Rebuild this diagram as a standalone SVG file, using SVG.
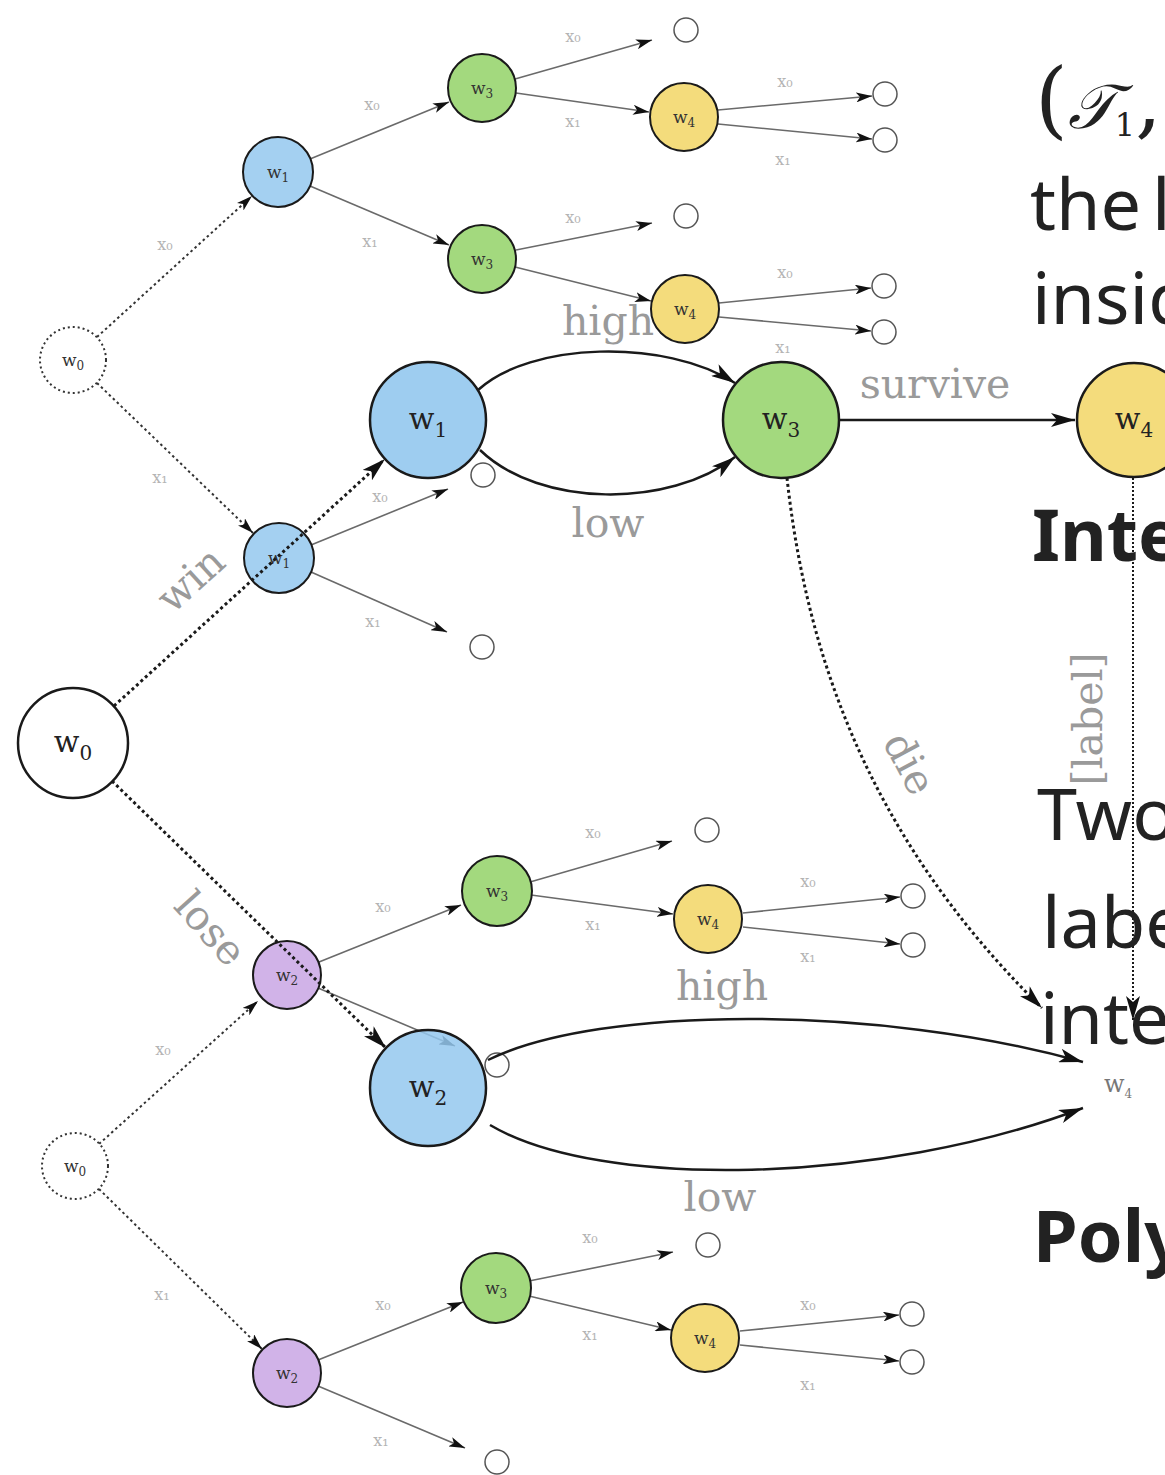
<svg xmlns="http://www.w3.org/2000/svg" width="1165" height="1475" viewBox="0 0 1165 1475">
<defs>
<style>
.bg{fill:#fff}
.md{stroke:#1a1a1a;stroke-width:3;stroke-dasharray:3 3;fill:none}
.mdot{stroke:#1a1a1a;stroke-width:2;stroke-dasharray:2 2;fill:none}
.ms{stroke:#1a1a1a;stroke-width:2.5;fill:none}
.fe{stroke:#6a6a6a;stroke-width:1.6;fill:none}
.fd{stroke:#333;stroke-width:2;stroke-dasharray:2.5 3;fill:none}
.lbl{font-family:"DejaVu Serif",serif;font-size:41px;fill:#9a9a9a}
.flbl{font-family:"DejaVu Serif",serif;font-size:16px;fill:#b4b4b4}
.nl{font-family:"DejaVu Serif",serif;font-size:30px;fill:#222}
.fnl{font-family:"DejaVu Serif",serif;font-size:17px;fill:#333}
.sub{font-size:20px}
.fsub{font-size:12px}
.blue{fill:#94c8ee;stroke:#1a1a1a;stroke-width:2.5}
.green{fill:#a3d97e;stroke:#1a1a1a;stroke-width:2.5}
.yellow{fill:#f4dc7c;stroke:#1a1a1a;stroke-width:2.5}
.white{fill:#fff;stroke:#1a1a1a;stroke-width:2.5}
.fblue{fill:#94c8ee;stroke:#1a1a1a;stroke-width:2;fill-opacity:.85}
.fgreen{fill:#a3d97e;stroke:#1a1a1a;stroke-width:2}
.fyellow{fill:#f4dc7c;stroke:#1a1a1a;stroke-width:2}
.fpurple{fill:#c9a6e4;stroke:#1a1a1a;stroke-width:2;fill-opacity:.85}
.froot{fill:#fff;stroke:#333;stroke-width:2;stroke-dasharray:2 3}
.leaf{fill:#fff;stroke:#555;stroke-width:1.5}
.txt{font-family:"Noto Sans","Open Sans",sans-serif;font-size:72px;fill:#222}
.txtb{font-family:"Noto Sans","Open Sans",sans-serif;font-size:72px;font-weight:bold;fill:#222}
</style>
<marker id="ah" markerUnits="userSpaceOnUse" markerWidth="24" markerHeight="14" refX="24" refY="7" orient="auto"><path d="M0,0 L24,7 L0,14 L6,7 Z" fill="#111"/></marker>
<marker id="as" markerUnits="userSpaceOnUse" markerWidth="16" markerHeight="10" refX="16" refY="5" orient="auto"><path d="M0,0 L16,5 L0,10 L4,5 Z" fill="#111"/></marker>
</defs>
<rect class="bg" x="0" y="0" width="1165" height="1475"/>

<!-- faint top tree -->
<g id="faint-top-edges">
<line class="fd" x1="97" y1="337" x2="252" y2="196" marker-end="url(#as)"/>
<line class="fd" x1="97" y1="383" x2="253" y2="533" marker-end="url(#as)"/>
<line class="fe" x1="310" y1="159" x2="449" y2="102" marker-end="url(#as)"/>
<line class="fe" x1="310" y1="186" x2="449" y2="245" marker-end="url(#as)"/>
<line class="fe" x1="515" y1="79" x2="652" y2="40" marker-end="url(#as)"/>
<line class="fe" x1="516" y1="93" x2="649" y2="112" marker-end="url(#as)"/>
<line class="fe" x1="718" y1="110" x2="872" y2="96" marker-end="url(#as)"/>
<line class="fe" x1="718" y1="124" x2="872" y2="139" marker-end="url(#as)"/>
<line class="fe" x1="516" y1="250" x2="652" y2="223" marker-end="url(#as)"/>
<line class="fe" x1="515" y1="267" x2="651" y2="301" marker-end="url(#as)"/>
<line class="fe" x1="719" y1="303" x2="871" y2="288" marker-end="url(#as)"/>
<line class="fe" x1="719" y1="317" x2="871" y2="331" marker-end="url(#as)"/>
<line class="fe" x1="311" y1="545" x2="448" y2="489" marker-end="url(#as)"/>
<line class="fe" x1="311" y1="572" x2="447" y2="632" marker-end="url(#as)"/>
<text class="flbl" x="165" y="250" text-anchor="middle">x₀</text>
<text class="flbl" x="160" y="483" text-anchor="middle">x₁</text>
<text class="flbl" x="372" y="110" text-anchor="middle">x₀</text>
<text class="flbl" x="370" y="247" text-anchor="middle">x₁</text>
<text class="flbl" x="573" y="42" text-anchor="middle">x₀</text>
<text class="flbl" x="573" y="127" text-anchor="middle">x₁</text>
<text class="flbl" x="785" y="87" text-anchor="middle">x₀</text>
<text class="flbl" x="783" y="165" text-anchor="middle">x₁</text>
<text class="flbl" x="573" y="223" text-anchor="middle">x₀</text>
<text class="flbl" x="785" y="278" text-anchor="middle">x₀</text>
<text class="flbl" x="783" y="353" text-anchor="middle">x₁</text>
<text class="flbl" x="380" y="502" text-anchor="middle">x₀</text>
<text class="flbl" x="373" y="627" text-anchor="middle">x₁</text>
</g>
<g id="faint-top-nodes">
<g id="t-root"><circle class="froot" cx="73" cy="360" r="33"/><text class="fnl" x="73" y="366" text-anchor="middle">w<tspan class="fsub" dy="4">0</tspan></text></g>
<g id="t-blueA"><circle class="fblue" cx="278" cy="172" r="35"/><text class="fnl" x="278" y="178" text-anchor="middle">w<tspan class="fsub" dy="4">1</tspan></text></g>
<g id="t-blueB"><circle class="fblue" cx="279" cy="558" r="35"/><text class="fnl" x="279" y="564" text-anchor="middle">w<tspan class="fsub" dy="4">1</tspan></text></g>
<g id="t-green1"><circle class="fgreen" cx="482" cy="88" r="34"/><text class="fnl" x="482" y="94" text-anchor="middle">w<tspan class="fsub" dy="4">3</tspan></text></g>
<g id="t-green2"><circle class="fgreen" cx="482" cy="259" r="34"/><text class="fnl" x="482" y="265" text-anchor="middle">w<tspan class="fsub" dy="4">3</tspan></text></g>
<g id="t-yellow1"><circle class="fyellow" cx="684" cy="117" r="34"/><text class="fnl" x="684" y="123" text-anchor="middle">w<tspan class="fsub" dy="4">4</tspan></text></g>
<g id="t-yellow2"><circle class="fyellow" cx="685" cy="309" r="34"/><text class="fnl" x="685" y="315" text-anchor="middle">w<tspan class="fsub" dy="4">4</tspan></text></g>
<g id="t-leaf1"><circle class="leaf" cx="686" cy="30" r="12"/></g>
<g id="t-leaf2"><circle class="leaf" cx="885" cy="94" r="12"/></g>
<g id="t-leaf3"><circle class="leaf" cx="885" cy="140" r="12"/></g>
<g id="t-leaf4"><circle class="leaf" cx="686" cy="216" r="12"/></g>
<g id="t-leaf5"><circle class="leaf" cx="884" cy="286" r="12"/></g>
<g id="t-leaf6"><circle class="leaf" cx="884" cy="332" r="12"/></g>
<g id="t-leaf7"><circle class="leaf" cx="483" cy="475" r="12"/></g>
<g id="t-leaf8"><circle class="leaf" cx="482" cy="647" r="12"/></g>
</g>

<!-- faint bottom tree -->
<g id="faint-bottom-edges">
<line class="fd" x1="99" y1="1144" x2="258" y2="1001" marker-end="url(#as)"/>
<line class="fd" x1="99" y1="1189" x2="262" y2="1349" marker-end="url(#as)"/>
<line class="fe" x1="319" y1="962" x2="461" y2="905" marker-end="url(#as)"/>
<line class="fe" x1="318" y1="988" x2="455" y2="1046" marker-end="url(#as)"/>
<line class="fe" x1="530" y1="882" x2="672" y2="841" marker-end="url(#as)"/>
<line class="fe" x1="531" y1="895" x2="673" y2="914" marker-end="url(#as)"/>
<line class="fe" x1="743" y1="913" x2="900" y2="897" marker-end="url(#as)"/>
<line class="fe" x1="743" y1="927" x2="900" y2="944" marker-end="url(#as)"/>
<line class="fe" x1="318" y1="1360" x2="463" y2="1302" marker-end="url(#as)"/>
<line class="fe" x1="318" y1="1386" x2="465" y2="1448" marker-end="url(#as)"/>
<line class="fe" x1="529" y1="1281" x2="673" y2="1252" marker-end="url(#as)"/>
<line class="fe" x1="529" y1="1296" x2="671" y2="1330" marker-end="url(#as)"/>
<line class="fe" x1="740" y1="1331" x2="899" y2="1315" marker-end="url(#as)"/>
<line class="fe" x1="740" y1="1345" x2="899" y2="1361" marker-end="url(#as)"/>
<text class="flbl" x="163" y="1055" text-anchor="middle">x₀</text>
<text class="flbl" x="162" y="1300" text-anchor="middle">x₁</text>
<text class="flbl" x="383" y="912" text-anchor="middle">x₀</text>
<text class="flbl" x="383" y="1310" text-anchor="middle">x₀</text>
<text class="flbl" x="381" y="1446" text-anchor="middle">x₁</text>
<text class="flbl" x="593" y="838" text-anchor="middle">x₀</text>
<text class="flbl" x="593" y="930" text-anchor="middle">x₁</text>
<text class="flbl" x="808" y="887" text-anchor="middle">x₀</text>
<text class="flbl" x="808" y="962" text-anchor="middle">x₁</text>
<text class="flbl" x="590" y="1243" text-anchor="middle">x₀</text>
<text class="flbl" x="590" y="1340" text-anchor="middle">x₁</text>
<text class="flbl" x="808" y="1310" text-anchor="middle">x₀</text>
<text class="flbl" x="808" y="1390" text-anchor="middle">x₁</text>
</g>
<g id="faint-bottom-nodes">
<g id="b-root"><circle class="froot" cx="75" cy="1166" r="33"/><text class="fnl" x="75" y="1172" text-anchor="middle">w<tspan class="fsub" dy="4">0</tspan></text></g>
<g id="b-purpleA"><circle class="fpurple" cx="287" cy="975" r="34"/><text class="fnl" x="287" y="981" text-anchor="middle">w<tspan class="fsub" dy="4">2</tspan></text></g>
<g id="b-purpleB"><circle class="fpurple" cx="287" cy="1373" r="34"/><text class="fnl" x="287" y="1379" text-anchor="middle">w<tspan class="fsub" dy="4">2</tspan></text></g>
<g id="b-greenA"><circle class="fgreen" cx="497" cy="891" r="35"/><text class="fnl" x="497" y="897" text-anchor="middle">w<tspan class="fsub" dy="4">3</tspan></text></g>
<g id="b-yellowA"><circle class="fyellow" cx="708" cy="919" r="34"/><text class="fnl" x="708" y="925" text-anchor="middle">w<tspan class="fsub" dy="4">4</tspan></text></g>
<g id="b-greenB"><circle class="fgreen" cx="496" cy="1288" r="35"/><text class="fnl" x="496" y="1294" text-anchor="middle">w<tspan class="fsub" dy="4">3</tspan></text></g>
<g id="b-yellowB"><circle class="fyellow" cx="705" cy="1338" r="34"/><text class="fnl" x="705" y="1344" text-anchor="middle">w<tspan class="fsub" dy="4">4</tspan></text></g>
<g id="b-leaf1"><circle class="leaf" cx="707" cy="830" r="12"/></g>
<g id="b-leaf2"><circle class="leaf" cx="913" cy="896" r="12"/></g>
<g id="b-leaf3"><circle class="leaf" cx="913" cy="945" r="12"/></g>
<g id="b-leaf4"><circle class="leaf" cx="497" cy="1065" r="12"/></g>
<g id="b-leaf5"><circle class="leaf" cx="708" cy="1245" r="12"/></g>
<g id="b-leaf6"><circle class="leaf" cx="912" cy="1314" r="12"/></g>
<g id="b-leaf7"><circle class="leaf" cx="912" cy="1362" r="12"/></g>
<g id="b-leaf8"><circle class="leaf" cx="497" cy="1462" r="12"/></g>
</g>

<!-- main connectors -->
<g id="connectors">
<line class="md" x1="114" y1="706" x2="385" y2="459" marker-end="url(#ah)"/>
<line class="md" x1="112" y1="781" x2="386" y2="1048" marker-end="url(#ah)"/>
<path class="ms" d="M478,390 C530,342 665,338 735,383" marker-end="url(#ah)"/>
<path class="ms" d="M480,450 C540,508 670,508 735,457" marker-end="url(#ah)"/>
<line class="ms" x1="839" y1="420" x2="1075" y2="420" marker-end="url(#ah)"/>
<path class="md" d="M787,478 C805,640 860,830 1042,1008" marker-end="url(#ah)"/>
<line class="mdot" x1="1133" y1="478" x2="1133" y2="1020" marker-end="url(#ah)"/>
<path class="ms" d="M488,1060 C600,1005 880,1005 1083,1062" marker-end="url(#ah)"/>
<path class="ms" d="M490,1125 C600,1190 880,1185 1083,1108" marker-end="url(#ah)"/>
<text class="lbl" x="608" y="335" text-anchor="middle">high</text>
<text class="lbl" x="608" y="537" text-anchor="middle">low</text>
<text class="lbl" x="935" y="398" text-anchor="middle">survive</text>
<text class="lbl" x="722" y="1000" text-anchor="middle">high</text>
<text class="lbl" x="720" y="1211" text-anchor="middle">low</text>
<text class="lbl" transform="translate(200,590) rotate(-42)" text-anchor="middle">win</text>
<text class="lbl" transform="translate(200,938) rotate(48)" text-anchor="middle">lose</text>
<text class="lbl" transform="translate(897,770) rotate(62)" text-anchor="middle">die</text>
<text class="lbl" transform="translate(1102,719) rotate(-90)" text-anchor="middle">[label]</text>
<text class="fnl" x="1104" y="1092" style="font-size:24px;fill:#777">w<tspan class="fsub" dy="6">4</tspan></text>
</g>

<!-- main nodes -->
<g id="w0"><circle class="white" cx="73" cy="743" r="55"/><text class="nl" x="73" y="752" text-anchor="middle">w<tspan class="sub" dy="8">0</tspan></text></g>
<g id="w1"><circle class="blue" cx="428" cy="420" r="58" fill-opacity=".9"/><text class="nl" x="428" y="429" text-anchor="middle">w<tspan class="sub" dy="8">1</tspan></text></g>
<g id="w3"><circle class="green" cx="781" cy="420" r="58"/><text class="nl" x="781" y="429" text-anchor="middle">w<tspan class="sub" dy="8">3</tspan></text></g>
<g id="w4"><circle class="yellow" cx="1134" cy="420" r="57"/><text class="nl" x="1134" y="429" text-anchor="middle">w<tspan class="sub" dy="8">4</tspan></text></g>
<g id="w2"><circle class="blue" cx="428" cy="1088" r="58" fill-opacity=".85"/><text class="nl" x="428" y="1097" text-anchor="middle">w<tspan class="sub" dy="8">2</tspan></text></g>

<!-- right side text (cropped by the canvas edge, as in the picture) -->
<g id="side-text">
<text x="1035" y="128" style="font-family:'DejaVu Serif',serif;font-size:84px;fill:#222">(<tspan font-style="italic" font-size="62">𝒯</tspan><tspan font-size="32" dy="8">1</tspan><tspan dy="-8">,</tspan></text>
<text class="txt" x="1030" y="230">the<tspan x="1152">l</tspan></text>
<text class="txt" x="1032" y="324">insid</text>
<text class="txtb" x="1032" y="561">Inte</text>
<text class="txt" x="1037" y="840">Two</text>
<text class="txt" x="1042" y="948">labe</text>
<text class="txt" x="1040" y="1044">inte</text>
<text class="txtb" x="1033" y="1262">Poly</text>
</g>
</svg>
